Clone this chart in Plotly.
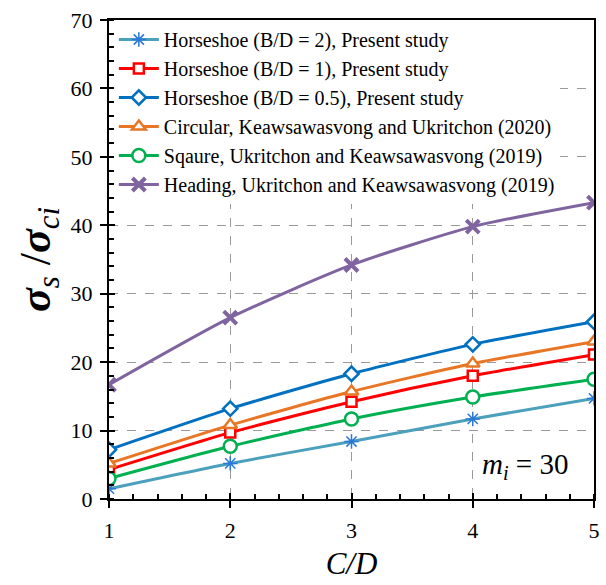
import plotly.graph_objects as go

cd = [1, 2, 3, 4, 5]
horse_bd2 = [1.5, 5.2, 8.4, 11.7, 14.7]
horse_bd1 = [4.3, 9.7, 14.2, 18.0, 21.1]
horse_bd05 = [7.2, 13.2, 18.3, 22.6, 25.9]
circular = [5.2, 10.8, 15.7, 19.8, 23.0]
square = [3.0, 7.7, 11.7, 14.9, 17.5]
heading = [16.7, 26.5, 34.2, 39.8, 43.3]

names = [
    "Horseshoe (B/D = 2), Present study",
    "Horseshoe (B/D = 1), Present study",
    "Horseshoe (B/D = 0.5), Present study",
    "Circular, Keawsawasvong and Ukritchon (2020)",
    "Sqaure, Ukritchon and Keawsawasvong (2019)",
    "Heading, Ukritchon and Keawsawasvong (2019)",
]
series = [horse_bd2, horse_bd1, horse_bd05, circular, square, heading]
line_colors = ["#4BA0BC", "#FF0000", "#0070C0", "#E97624", "#00B050", "#7F64A0"]
marker_colors = ["#2A78D8", "#FF0000", "#0070C0", "#E97624", "#00B050", "#7F64A0"]
symbols = ["asterisk-open", "square", "diamond", "triangle-up", "circle", "x-thin-open"]
msizes = [12, 10, 11, 12, 13, 13]
mwidths = [1.5, 2.5, 2.5, 2.5, 2.5, 4]

fig = go.Figure()
for name, ys, lc, mc, sym, ms, mw in zip(names, series, line_colors, marker_colors, symbols, msizes, mwidths):
    is_open = sym.endswith("-open")
    fig.add_trace(go.Scatter(
        x=cd, y=ys, name=name, mode="lines+markers",
        line=dict(color=lc, width=3, shape="spline", smoothing=0.6),
        marker=dict(symbol=sym, size=ms, color=mc if is_open else "white",
                    line=dict(color=mc, width=mw)),
    ))

# dummy trace to draw inward halves of major ticks
fig.add_trace(go.Scatter(x=[1], y=[0], xaxis="x2", yaxis="y2", mode="markers",
                         marker=dict(opacity=0), showlegend=False, hoverinfo="skip"))

font_family = '"Liberation Serif", "Times New Roman", serif'
axis_common = dict(showline=True, linecolor="black", linewidth=2, mirror=True,
                   ticks="outside", ticklen=7, tickwidth=2, tickcolor="black",
                   showgrid=True, gridcolor="#9a9a9a", griddash="dash", gridwidth=1,
                   zeroline=False, tickfont=dict(family=font_family, size=22, color="black"))

fig.update_layout(
    width=606, height=585,
    margin=dict(l=109, r=6, t=20, b=86),
    paper_bgcolor="white", plot_bgcolor="white",
    font=dict(family=font_family, color="black"),
    showlegend=True,
    legend=dict(x=0.01, y=1.0, xanchor="left", yanchor="top",
                bgcolor="white", borderwidth=0,
                font=dict(family=font_family, size=20, color="black"),
                tracegroupgap=0, itemwidth=40),
    xaxis=dict(range=[1, 5], tickvals=[1, 2, 3, 4, 5],
               minor=dict(dtick=0.2, ticks="inside", ticklen=5, tickwidth=1.5, tickcolor="black", showgrid=False),
               title=dict(text="<i>C/D</i>", font=dict(family=font_family, size=31), standoff=10),
               ticklabelstandoff=4,
               **axis_common),
    yaxis=dict(range=[0, 70], tickvals=[0, 10, 20, 30, 40, 50, 60, 70],
               minor=dict(dtick=2, ticks="inside", ticklen=5, tickwidth=1.5, tickcolor="black", showgrid=False),
               title=dict(text="<i><b>σ</b><sub>s</sub></i> /<i><b>σ</b><sub>ci</sub></i>", font=dict(family=font_family, size=44), standoff=6),
               ticklabelstandoff=3,
               **axis_common),
    xaxis2=dict(range=[1, 5], overlaying="x", tickvals=[1, 2, 3, 4, 5], ticks="inside", ticklen=6,
                tickwidth=2, tickcolor="black", showticklabels=False, showgrid=False, zeroline=False,
                showline=False, side="bottom"),
    yaxis2=dict(range=[0, 70], overlaying="y", tickvals=[0, 10, 20, 30, 40, 50, 60, 70], ticks="inside",
                ticklen=6, tickwidth=2, tickcolor="black", showticklabels=False, showgrid=False,
                zeroline=False, showline=False, side="left"),
    annotations=[dict(x=4.43, y=4.8, xref="x", yref="y", showarrow=False,
                      text="<i>m<sub>i</sub></i> = 30",
                      font=dict(family=font_family, size=29, color="black"))],
)

fig.write_html("out.html")
